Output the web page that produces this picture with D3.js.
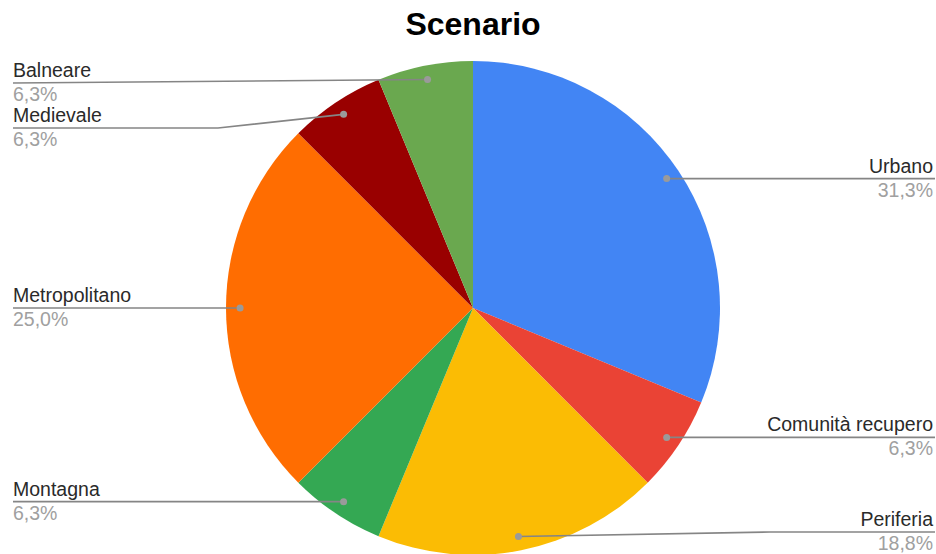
<!DOCTYPE html>
<html>
<head>
<meta charset="utf-8">
<script src="https://cdn.jsdelivr.net/npm/d3@7"></script>
<style>
  html, body { margin: 0; padding: 0; background: #fff; }
  svg { display: block; }
</style>
</head>
<body>
<svg id="chart" width="936" height="554"></svg>
<script>
// Scenario shares (counts out of 16 responses)
const categories = ["Urbano", "Comunità recupero", "Periferia", "Montagna", "Metropolitano", "Medievale", "Balneare"];
const counts = [5, 1, 3, 1, 4, 1, 1];
const percentLabels = ["31,3%", "6,3%", "18,8%", "6,3%", "25,0%", "6,3%", "6,3%"];
const colors = ["#4285F4", "#EA4335", "#FBBC04", "#34A853", "#FF6D01", "#990000", "#6AA84F"];

const FONT = "'Liberation Sans', Arial, sans-serif";
const cx = 473, cy = 308, R = 247;
const svg = d3.select("#chart");

svg.append("text")
  .attr("x", cx).attr("y", 35)
  .attr("text-anchor", "middle")
  .attr("font-family", FONT)
  .attr("font-weight", "bold")
  .attr("font-size", 32)
  .attr("fill", "#000")
  .text("Scenario");

const data = categories.map((c, i) => ({ name: c, value: counts[i], pct: percentLabels[i], color: colors[i] }));
const pie = d3.pie().value(d => d.value).sort(null);
const arcs = pie(data);
const arc = d3.arc().innerRadius(0).outerRadius(R);
const dotArc = d3.arc().innerRadius(R * 0.943).outerRadius(R * 0.943);

const g = svg.append("g").attr("transform", `translate(${cx},${cy})`);
g.selectAll("path.slice").data(arcs).join("path")
  .attr("class", "slice")
  .attr("d", arc)
  .attr("fill", d => d.data.color);

// Leader-label layout: anchor dot near the rim, labels pushed to the margins
const leftX = 13, rightX = 935;
const minY = 83, maxY = 532, gap = 45;
const items = arcs.map(a => {
  const mid = (a.startAngle + a.endAngle) / 2;
  const [x, y] = dotArc.centroid({ startAngle: mid, endAngle: mid });
  return { a, dx: x + cx, dy: y + cy, side: x < 0 ? "left" : "right", ly: y + cy };
});
["left", "right"].forEach(side => {
  const list = items.filter(d => d.side === side).sort((p, q) => p.ly - q.ly);
  for (let i = 0; i < list.length; i++) {
    list[i].ly = Math.max(list[i].ly, minY, i ? list[i - 1].ly + gap : -Infinity);
  }
  for (let i = list.length - 1; i >= 0; i--) {
    list[i].ly = Math.min(list[i].ly, maxY, i < list.length - 1 ? list[i + 1].ly - gap : Infinity);
  }
});

// Elbow positions of the leader lines that bend toward a shifted label
const elbowX = { "Medievale": 218, "Balneare": 13, "Periferia": 770 };

const labels = svg.append("g");
items.forEach(d => {
  const endX = d.side === "left" ? leftX : rightX;
  const ex = elbowX[d.a.data.name] !== undefined ? elbowX[d.a.data.name] : d.dx;
  const pts = [[d.dx, d.dy], [ex, d.ly], [endX, d.ly]];
  labels.append("path")
    .attr("d", d3.line()(pts))
    .attr("fill", "none")
    .attr("stroke", "#858585")
    .attr("stroke-width", 1.6);
  labels.append("circle")
    .attr("cx", d.dx).attr("cy", d.dy).attr("r", 3.5)
    .attr("fill", "#9a9a9a");
  const anchor = d.side === "left" ? "start" : "end";
  const tx = d.side === "left" ? leftX : 933;
  labels.append("text")
    .attr("x", tx).attr("y", d.ly - 6)
    .attr("text-anchor", anchor)
    .attr("font-family", FONT)
    .attr("font-size", 19.5)
    .attr("fill", "#2a2a2a")
    .text(d.a.data.name);
  labels.append("text")
    .attr("x", tx).attr("y", d.ly + 18)
    .attr("text-anchor", anchor)
    .attr("font-family", FONT)
    .attr("font-size", 19.5)
    .attr("fill", "#a0a0a0")
    .text(d.a.data.pct);
});
</script>
</body>
</html>
